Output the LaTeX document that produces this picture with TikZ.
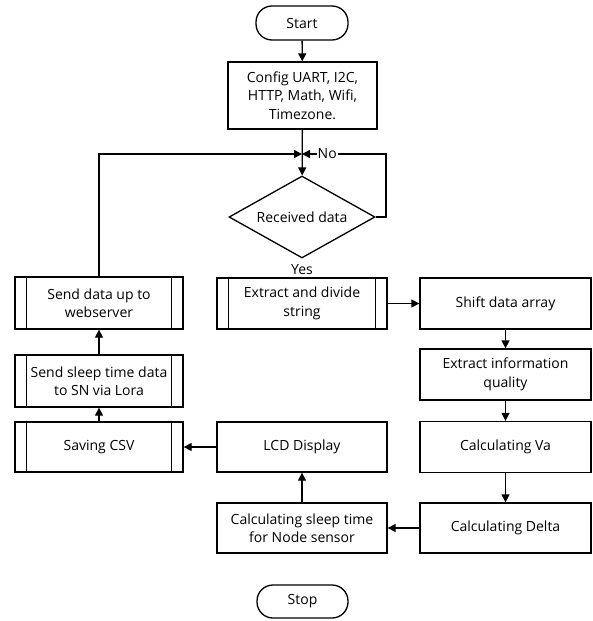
\documentclass[tikz,border=0pt]{standalone}
\usepackage{fontspec}
\setmainfont{Open Sans}
\usetikzlibrary{arrows.meta,shapes.geometric}
\tikzset{
    box/.style={draw, line width=1.3pt, align=center, inner sep=2pt,
        minimum width=170pt, minimum height=51pt, font=\fontsize{14}{18.5}\selectfont},
    pproc/.style={box, path picture={
        \draw[line width=1.3pt]
            ([xshift=11.5pt]path picture bounding box.north west) -- ([xshift=11.5pt]path picture bounding box.south west)
            ([xshift=-11.5pt]path picture bounding box.north east) -- ([xshift=-11.5pt]path picture bounding box.south east);}},
    term/.style={box, rounded corners=16pt, minimum width=92pt, minimum height=34pt},
    decision/.style={box, diamond, aspect=1.78, inner sep=0pt, minimum width=146pt, minimum height=82pt},
    arr/.style={line width=1.3pt, -{Triangle[length=8pt,width=8pt]}}
}
\begin{document}
\begin{tikzpicture}[x=1pt,y=-1pt]
    \useasboundingbox (0,0) rectangle (593,621);
    \node[term] (start) at (302,23) {Start};
    \node[box, minimum width=149pt, minimum height=67pt] (config) at (302.5,95.5) {Config UART, I2C,\\HTTP, Math, Wifi,\\Timezone.};
    \node[decision] (recv) at (302,217) {Received data};
    \node[pproc] (extract) at (302,303.5) {Extract and divide\\string};
    \node[box, minimum width=171pt] (shift) at (505.5,303.5) {Shift data array};
    \node[box, minimum width=171pt] (info) at (505.5,374.5) {Extract information\\quality};
    \node[box, minimum width=171pt] (calcva) at (505.5,447) {Calculating Va};
    \node[box, minimum width=171pt, minimum height=50pt] (delta) at (505.5,528) {Calculating Delta};
    \node[box, minimum height=50pt] (sleep) at (302,528) {Calculating sleep time\\for Node sensor};
    \node[box, minimum height=50pt] (lcd) at (302,447) {LCD Display};
    \node[pproc, minimum width=168pt, minimum height=50pt] (csv) at (99,447) {Saving CSV};
    \node[pproc, minimum width=168pt, minimum height=52pt] (lora) at (99,381) {Send sleep time data\\to SN via Lora};
    \node[pproc, minimum width=168pt, minimum height=52pt] (web) at (99,303) {Send data up to\\webserver};
    \node[term, minimum width=91pt, minimum height=33pt] (stop) at (302.5,601.5) {Stop};
    \node[font=\fontsize{14}{18.5}\selectfont, inner sep=0pt] (yes) at (302,270) {Yes};
    \coordinate (merge) at (302,154);
    \coordinate (noturn) at (386,154);
    \draw[arr] (start) -- (config);
    \draw[arr] (config) -- (recv);
    \draw[arr] (recv.east) -| (noturn) -- node[pos=0.7, fill=white, inner sep=1pt, font=\fontsize{14}{18.5}\selectfont] {No} (merge);
    \draw[arr] (web.north) |- (merge);
    \draw[arr] (extract) -- (shift);
    \draw[arr] (shift) -- (info);
    \draw[arr] (info) -- (calcva);
    \draw[arr] (calcva) -- (delta);
    \draw[arr] (delta) -- (sleep);
    \draw[arr] (sleep) -- (lcd);
    \draw[arr] (lcd) -- (csv);
    \draw[arr] (csv) -- (lora);
    \draw[arr] (lora) -- (web);
\end{tikzpicture}
\end{document}
